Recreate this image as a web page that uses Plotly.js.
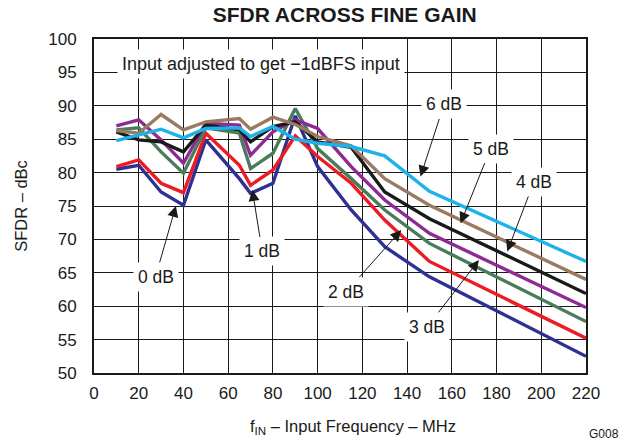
<!DOCTYPE html>
<html>
<head>
<meta charset="utf-8">
<script src="https://cdn.plot.ly/plotly-3.0.1.min.js"></script>
<style>html,body{margin:0;padding:0;background:#fff;}#chart{width:629px;height:444px;}</style>
</head>
<body>
<div id="chart"></div>
<script>
// Input frequency (MHz)
const freq = [10, 20, 30, 40, 50, 65, 70, 80, 90, 100, 115, 130, 150, 220];

// SFDR (dBc) per fine gain setting
const gain0dB = [80.5, 81.1, 77.1, 75.1, 84.9, 79.1, 76.9, 78.4, 88.5, 80.9, 74.4, 68.9, 64.4, 52.5];
const gain1dB = [80.9, 81.9, 78.4, 77.0, 85.9, 81.1, 78.1, 80.4, 85.5, 82.4, 78.4, 72.9, 66.7, 55.2];
const gain2dB = [86.4, 86.7, 83.1, 79.9, 86.7, 85.9, 80.6, 82.9, 89.6, 83.6, 79.1, 74.4, 69.4, 57.7];
const gain3dB = [87.0, 87.9, 84.9, 81.4, 87.4, 87.1, 82.6, 86.1, 87.9, 86.6, 80.9, 75.9, 70.9, 59.8];
const gain4dB = [86.1, 84.9, 84.6, 83.1, 87.1, 86.4, 84.6, 86.9, 87.6, 84.6, 83.8, 77.1, 73.1, 61.9];
const gain5dB = [86.3, 85.9, 88.7, 86.4, 87.6, 88.1, 86.5, 88.3, 87.2, 85.4, 84.0, 79.1, 75.1, 64.0];
const gain6dB = [84.8, 85.6, 86.5, 85.2, 86.6, 86.7, 85.4, 86.9, 85.0, 84.4, 83.9, 82.5, 77.2, 66.7];

const seriesNames = ["0 dB", "1 dB", "2 dB", "3 dB", "4 dB", "5 dB", "6 dB"];
const seriesValues = [gain0dB, gain1dB, gain2dB, gain3dB, gain4dB, gain5dB, gain6dB];
const seriesColors = ["#2e3192", "#ed1c24", "#4a7c5c", "#8e2a94", "#1a1a1a", "#9a7b62", "#1fb2ea"];

// label centres and arrow tips (data coords)
const labelText = ["0 dB", "1 dB", "2 dB", "3 dB", "4 dB", "5 dB", "6 dB"];
const labelX = [27.5, 75.2, 112.9, 149.0, 196.7, 177.3, 156.5];
const labelY = [64.4, 68.2, 62.2, 56.9, 78.6, 83.6, 90.2];
const tipX = [36.6, 70.8, 137.4, 172.1, 184.8, 163.9, 146.0];
const tipY = [75.0, 77.4, 71.4, 66.9, 68.2, 72.4, 79.4];

const FONT = "Liberation Sans, Arial, Helvetica, sans-serif";

const traces = seriesValues.map((v, i) => ({
  x: freq, y: v, type: "scatter", mode: "lines", name: seriesNames[i],
  line: {color: seriesColors[i], width: 3.4}, hoverinfo: "skip"
}));

const annotations = [];
annotations.push({
  x: 10.3, y: 96.2, xref: "x", yref: "y", xanchor: "left", yanchor: "middle",
  text: "Input adjusted to get \u22121dBFS input", showarrow: false,
  font: {family: FONT, size: 18, color: "#1a1a1a"},
  bgcolor: "#ffffff", borderpad: 4
});
for (let i = 0; i < labelText.length; i++) {
  annotations.push({
    x: tipX[i], y: tipY[i], ax: labelX[i], ay: labelY[i], xref: "x", yref: "y", axref: "x", ayref: "y",
    text: labelText[i], showarrow: true, arrowhead: 2, arrowsize: 2.2, arrowwidth: 1,
    arrowcolor: "#1a1a1a", standoff: 0,
    font: {family: FONT, size: 17.5, color: "#1a1a1a"},
    bgcolor: "#ffffff", borderpad: 4
  });
}
// x-axis title (placed slightly right of plot centre, as in the reference)
annotations.push({
  x: 0.527, y: 0, xref: "paper", yref: "paper", xanchor: "center", yanchor: "middle", yshift: -54,
  text: "f<sub>IN</sub> \u2013 Input Frequency \u2013 MHz", showarrow: false,
  font: {family: FONT, size: 16.5, color: "#1a1a1a"}
});
annotations.push({
  x: 1, y: 0, xref: "paper", yref: "paper", xanchor: "left", yanchor: "top", xshift: 1, yshift: -52,
  text: "G008", showarrow: false,
  font: {family: FONT, size: 12, color: "#1a1a1a"}
});

const tickFont = {family: FONT, size: 17, color: "#1a1a1a"};

const layout = {
  width: 629, height: 444,
  margin: {l: 94, r: 43, t: 39, b: 71},
  paper_bgcolor: "#ffffff", plot_bgcolor: "#ffffff",
  showlegend: false,
  title: {text: "<b>SFDR ACROSS FINE GAIN</b>", x: 0.548, xanchor: "center", y: 0.968, yanchor: "middle",
          font: {family: FONT, size: 21, color: "#1a1a1a"}},
  xaxis: {
    range: [0, 220], tickmode: "array", tickvals: [0,20,40,60,80,100,120,140,160,180,200,220],
    showgrid: true, gridcolor: "#1a1a1a", gridwidth: 1, zeroline: false,
    showline: true, linecolor: "#1a1a1a", linewidth: 2, mirror: true, ticks: "",
    ticklabelstandoff: 4,
    tickfont: tickFont
  },
  yaxis: {
    range: [50, 100], tickmode: "array", tickvals: [50,55,60,65,70,75,80,85,90,95,100],
    showgrid: true, gridcolor: "#1a1a1a", gridwidth: 1, zeroline: false,
    showline: true, linecolor: "#1a1a1a", linewidth: 2, mirror: true, ticks: "",
    ticklabelstandoff: 12,
    tickfont: tickFont,
    title: {text: "SFDR \u2013 dBc", standoff: 16,
            font: {family: FONT, size: 16.5, color: "#1a1a1a"}}
  },
  annotations: annotations
};

Plotly.newPlot("chart", traces, layout, {staticPlot: true, displayModeBar: false});
</script>
</body>
</html>
